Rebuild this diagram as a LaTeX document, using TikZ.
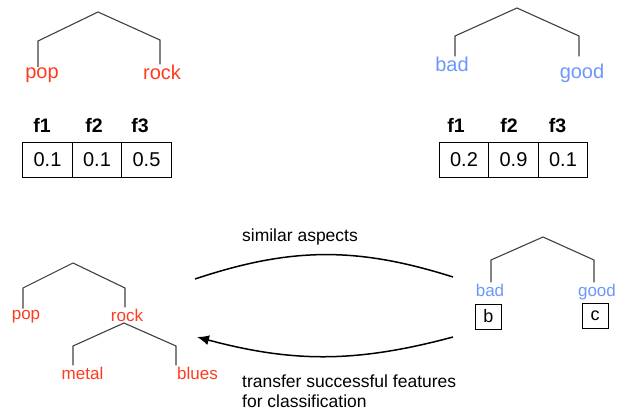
\documentclass[tikz,border=0pt]{standalone}
\usepackage{fontspec}
\setmainfont{Liberation Sans}
\usepackage{tikz}
\usetikzlibrary{arrows.meta}
\definecolor{genrered}{RGB}{255,59,31}
\definecolor{aspectblue}{RGB}{108,150,255}
\definecolor{branchgray}{RGB}{64,64,64}

\begin{document}
\begin{tikzpicture}[x=1pt,y=-1pt,
    branch/.style={draw=branchgray,line width=1.1pt},
    lbl/.style={anchor=base,inner sep=1pt,font=\fontsize{20}{24}\selectfont},
    sublbl/.style={anchor=base,inner sep=1pt,font=\fontsize{17}{20}\selectfont},
    cell/.style={draw,line width=0.8pt,minimum width=49.5pt,minimum height=35pt,inner sep=0pt,font=\fontsize{20}{24}\selectfont},
    feat/.style={anchor=base,inner sep=0pt,font=\bfseries\fontsize{19.5}{22}\selectfont},
    tag/.style={draw,line width=0.8pt,minimum width=26pt,minimum height=25pt,inner sep=0pt,font=\fontsize{18}{22}\selectfont},
    note/.style={inner sep=0pt,font=\fontsize{17.5}{19.7}\selectfont},
    arc/.style={line width=1.5pt}]
  \useasboundingbox (0,0) rectangle (627,412);
%  \draw[style=help lines,step=50] (0,0) grid (627,412);

  % genre tree with its features
  \coordinate (gtop) at (98,12);
  \coordinate (gl) at (38,41);
  \coordinate (gr) at (160,40);
  \node[lbl,text=genrered] (pop) at (42,79) {pop};
  \node[lbl,text=genrered] (rock) at (162,80) {rock};
  \draw[branch] (pop.north -| gl) -- (gl) -- (gtop) -- (gr) -- (rock.north -| gr);
  \foreach \f/\x in {1/42,2/94,3/140}
    \node[feat] (gf\f) at (\x,132) {f\f};
  \foreach \v [count=\i] in {0.1,0.1,0.5}
    \node[cell] (gv\i) at ({47.5+(\i-1)*49.5},159.5) {\v};

  % aspect tree with its features
  \coordinate (atop) at (517,8);
  \coordinate (al) at (455,36);
  \coordinate (ar) at (579,36);
  \node[lbl,text=aspectblue] (bad) at (452,72) {bad};
  \node[lbl,text=aspectblue] (good) at (582,78) {good};
  \draw[branch] (bad.north -| al) -- (al) -- (atop) -- (ar) -- ([yshift=6pt]good.north -| ar);
  \foreach \f/\x in {1/456,2/509,3/557.5}
    \node[feat] (af\f) at (\x,132) {f\f};
  \foreach \v [count=\i] in {0.2,0.9,0.1}
    \node[cell] (av\i) at ({464+(\i-1)*49.5},159.5) {\v};

  % extended genre tree
  \coordinate (mtop) at (73,263);
  \coordinate (ml) at (23,288);
  \coordinate (mr) at (125,288);
  \node[sublbl,text=genrered] (pop2) at (26,319) {pop};
  \node[sublbl,text=genrered] (rock2) at (127,321) {rock};
  \draw[branch] (pop2.north -| ml) -- (ml) -- (mtop) -- (mr) -- (rock2.north -| mr);
  \coordinate (rtop) at (124,323);
  \coordinate (rl) at (73,346);
  \coordinate (rr) at (176,346);
  \node[sublbl,text=genrered] (metal) at (82.5,379) {metal};
  \node[sublbl,text=genrered] (blues) at (197.5,379) {blues};
  \draw[branch] (metal.north -| rl) -- (rl) -- (rtop) -- (rr) -- (blues.north -| rr);

  % aspect tree with tags
  \coordinate (btop) at (543,237);
  \coordinate (bl) at (491,260);
  \coordinate (br) at (594,260);
  \node[sublbl,text=aspectblue] (bad2) at (490,296) {bad};
  \node[sublbl,text=aspectblue] (good2) at (597,296) {good};
  \draw[branch] (bad2.north -| bl) -- (bl) -- (btop) -- (br) -- (good2.north -| br);
  \node[tag] (b) at (488.5,316.5) {b};
  \node[tag] (c) at (595,315.5) {c};

  % links between the trees
  \coordinate (simL) at (195,279);
  \coordinate (simR) at (453,277);
  \draw[arc] (simL) to[bend left=18] (simR);
  \node[note] (simtxt) at (300,237) {similar aspects};
  \coordinate (trR) at (453,337);
  \coordinate (trL) at (197,337);
  \draw[arc,-{Latex[length=12pt,width=10pt]}] (trR) to[bend left=15] (trL);
  \node[note,align=left,anchor=north west] (trtxt) at (242,375)
    {transfer successful features\\for classification};
\end{tikzpicture}
\end{document}
